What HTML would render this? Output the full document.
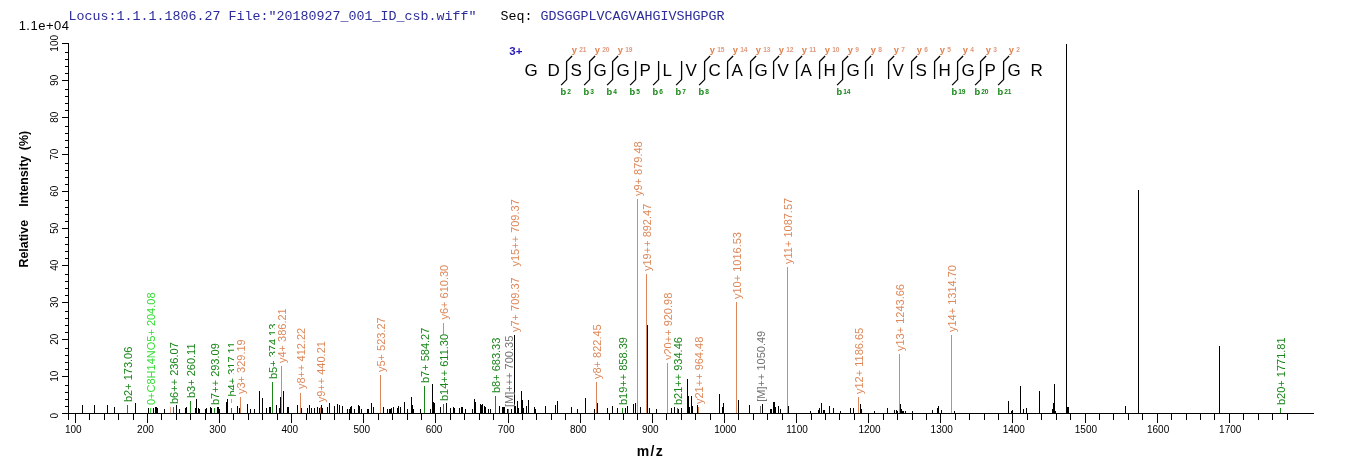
<!DOCTYPE html><html><head><meta charset="utf-8"><title>spectrum</title>
<style>html,body{margin:0;padding:0;background:#fff;overflow:hidden}svg{display:block;opacity:0.999;will-change:transform}text{font-family:"Liberation Sans",sans-serif}.m{font-family:"Liberation Mono",monospace}</style></head><body>
<svg width="1362" height="473" viewBox="0 0 1362 473">
<rect width="1362" height="473" fill="#fff"/>
<text class="m" x="68.5" y="19.5" font-size="13.33" fill="#2b2b9a" xml:space="preserve">Locus:1.1.1.1806.27 File:"20180927_001_ID_csb.wiff"</text>
<text class="m" x="500.5" y="19.5" font-size="13.33" fill="#000" xml:space="preserve">Seq:</text>
<text class="m" x="540.5" y="19.5" font-size="13.33" fill="#2b2b9a">GDSGGPLVCAGVAHGIVSHGPGR</text>
<text x="69.5" y="30" font-size="13" text-anchor="end" letter-spacing="0.5" fill="#000">1.1e+04</text>
<g fill="#000" shape-rendering="crispEdges">
<rect x="68" y="43" width="1" height="377"/>
<rect x="62" y="413" width="1252" height="1"/>
<rect x="62" y="43" width="6" height="1"/>
<rect x="65" y="52" width="3" height="1"/>
<rect x="65" y="59" width="3" height="1"/>
<rect x="65" y="66" width="3" height="1"/>
<rect x="65" y="73" width="3" height="1"/>
<rect x="62" y="80" width="6" height="1"/>
<rect x="65" y="89" width="3" height="1"/>
<rect x="65" y="96" width="3" height="1"/>
<rect x="65" y="103" width="3" height="1"/>
<rect x="65" y="110" width="3" height="1"/>
<rect x="62" y="117" width="6" height="1"/>
<rect x="65" y="126" width="3" height="1"/>
<rect x="65" y="133" width="3" height="1"/>
<rect x="65" y="140" width="3" height="1"/>
<rect x="65" y="147" width="3" height="1"/>
<rect x="62" y="154" width="6" height="1"/>
<rect x="65" y="163" width="3" height="1"/>
<rect x="65" y="170" width="3" height="1"/>
<rect x="65" y="177" width="3" height="1"/>
<rect x="65" y="184" width="3" height="1"/>
<rect x="62" y="191" width="6" height="1"/>
<rect x="65" y="200" width="3" height="1"/>
<rect x="65" y="207" width="3" height="1"/>
<rect x="65" y="214" width="3" height="1"/>
<rect x="65" y="221" width="3" height="1"/>
<rect x="62" y="228" width="6" height="1"/>
<rect x="65" y="237" width="3" height="1"/>
<rect x="65" y="244" width="3" height="1"/>
<rect x="65" y="251" width="3" height="1"/>
<rect x="65" y="258" width="3" height="1"/>
<rect x="62" y="265" width="6" height="1"/>
<rect x="65" y="274" width="3" height="1"/>
<rect x="65" y="281" width="3" height="1"/>
<rect x="65" y="288" width="3" height="1"/>
<rect x="65" y="295" width="3" height="1"/>
<rect x="62" y="302" width="6" height="1"/>
<rect x="65" y="311" width="3" height="1"/>
<rect x="65" y="318" width="3" height="1"/>
<rect x="65" y="325" width="3" height="1"/>
<rect x="65" y="332" width="3" height="1"/>
<rect x="62" y="339" width="6" height="1"/>
<rect x="65" y="348" width="3" height="1"/>
<rect x="65" y="355" width="3" height="1"/>
<rect x="65" y="362" width="3" height="1"/>
<rect x="65" y="369" width="3" height="1"/>
<rect x="62" y="376" width="6" height="1"/>
<rect x="65" y="385" width="3" height="1"/>
<rect x="65" y="392" width="3" height="1"/>
<rect x="65" y="399" width="3" height="1"/>
<rect x="65" y="406" width="3" height="1"/>
<rect x="62" y="413" width="6" height="1"/>
<rect x="75" y="413" width="1" height="10"/>
<rect x="89" y="413" width="1" height="7"/>
<rect x="104" y="413" width="1" height="7"/>
<rect x="118" y="413" width="1" height="7"/>
<rect x="133" y="413" width="1" height="7"/>
<rect x="147" y="413" width="1" height="10"/>
<rect x="161" y="413" width="1" height="7"/>
<rect x="176" y="413" width="1" height="7"/>
<rect x="190" y="413" width="1" height="7"/>
<rect x="205" y="413" width="1" height="7"/>
<rect x="219" y="413" width="1" height="10"/>
<rect x="233" y="413" width="1" height="7"/>
<rect x="248" y="413" width="1" height="7"/>
<rect x="262" y="413" width="1" height="7"/>
<rect x="277" y="413" width="1" height="7"/>
<rect x="291" y="413" width="1" height="10"/>
<rect x="306" y="413" width="1" height="7"/>
<rect x="320" y="413" width="1" height="7"/>
<rect x="334" y="413" width="1" height="7"/>
<rect x="349" y="413" width="1" height="7"/>
<rect x="363" y="413" width="1" height="10"/>
<rect x="378" y="413" width="1" height="7"/>
<rect x="392" y="413" width="1" height="7"/>
<rect x="407" y="413" width="1" height="7"/>
<rect x="421" y="413" width="1" height="7"/>
<rect x="435" y="413" width="1" height="10"/>
<rect x="450" y="413" width="1" height="7"/>
<rect x="464" y="413" width="1" height="7"/>
<rect x="479" y="413" width="1" height="7"/>
<rect x="493" y="413" width="1" height="7"/>
<rect x="508" y="413" width="1" height="10"/>
<rect x="522" y="413" width="1" height="7"/>
<rect x="536" y="413" width="1" height="7"/>
<rect x="551" y="413" width="1" height="7"/>
<rect x="565" y="413" width="1" height="7"/>
<rect x="580" y="413" width="1" height="10"/>
<rect x="594" y="413" width="1" height="7"/>
<rect x="609" y="413" width="1" height="7"/>
<rect x="623" y="413" width="1" height="7"/>
<rect x="637" y="413" width="1" height="7"/>
<rect x="652" y="413" width="1" height="10"/>
<rect x="666" y="413" width="1" height="7"/>
<rect x="681" y="413" width="1" height="7"/>
<rect x="695" y="413" width="1" height="7"/>
<rect x="710" y="413" width="1" height="7"/>
<rect x="724" y="413" width="1" height="10"/>
<rect x="738" y="413" width="1" height="7"/>
<rect x="753" y="413" width="1" height="7"/>
<rect x="767" y="413" width="1" height="7"/>
<rect x="782" y="413" width="1" height="7"/>
<rect x="796" y="413" width="1" height="10"/>
<rect x="811" y="413" width="1" height="7"/>
<rect x="825" y="413" width="1" height="7"/>
<rect x="839" y="413" width="1" height="7"/>
<rect x="854" y="413" width="1" height="7"/>
<rect x="868" y="413" width="1" height="10"/>
<rect x="883" y="413" width="1" height="7"/>
<rect x="897" y="413" width="1" height="7"/>
<rect x="912" y="413" width="1" height="7"/>
<rect x="926" y="413" width="1" height="7"/>
<rect x="940" y="413" width="1" height="10"/>
<rect x="955" y="413" width="1" height="7"/>
<rect x="969" y="413" width="1" height="7"/>
<rect x="984" y="413" width="1" height="7"/>
<rect x="998" y="413" width="1" height="7"/>
<rect x="1012" y="413" width="1" height="10"/>
<rect x="1027" y="413" width="1" height="7"/>
<rect x="1041" y="413" width="1" height="7"/>
<rect x="1056" y="413" width="1" height="7"/>
<rect x="1070" y="413" width="1" height="7"/>
<rect x="1085" y="413" width="1" height="10"/>
<rect x="1099" y="413" width="1" height="7"/>
<rect x="1113" y="413" width="1" height="7"/>
<rect x="1128" y="413" width="1" height="7"/>
<rect x="1142" y="413" width="1" height="7"/>
<rect x="1157" y="413" width="1" height="10"/>
<rect x="1171" y="413" width="1" height="7"/>
<rect x="1186" y="413" width="1" height="7"/>
<rect x="1200" y="413" width="1" height="7"/>
<rect x="1214" y="413" width="1" height="7"/>
<rect x="1229" y="413" width="1" height="10"/>
<rect x="1243" y="413" width="1" height="7"/>
<rect x="1258" y="413" width="1" height="7"/>
<rect x="1272" y="413" width="1" height="7"/>
<rect x="1287" y="413" width="1" height="7"/>
</g>
<g font-size="10" fill="#000">
<text x="65.0" y="433">100</text>
<text x="137.1" y="433">200</text>
<text x="209.3" y="433">300</text>
<text x="281.4" y="433">400</text>
<text x="353.5" y="433">500</text>
<text x="425.7" y="433">600</text>
<text x="497.8" y="433">700</text>
<text x="569.9" y="433">800</text>
<text x="642.0" y="433">900</text>
<text x="714.2" y="433">1000</text>
<text x="786.3" y="433">1100</text>
<text x="858.4" y="433">1200</text>
<text x="930.6" y="433">1300</text>
<text x="1002.7" y="433">1400</text>
<text x="1074.8" y="433">1500</text>
<text x="1147.0" y="433">1600</text>
<text x="1219.1" y="433">1700</text>
<text text-anchor="middle" transform="translate(57.6,415.7) rotate(-90)">0</text>
<text text-anchor="middle" transform="translate(57.6,376.3) rotate(-90)">10</text>
<text text-anchor="middle" transform="translate(57.6,339.3) rotate(-90)">20</text>
<text text-anchor="middle" transform="translate(57.6,302.3) rotate(-90)">30</text>
<text text-anchor="middle" transform="translate(57.6,265.3) rotate(-90)">40</text>
<text text-anchor="middle" transform="translate(57.6,228.3) rotate(-90)">50</text>
<text text-anchor="middle" transform="translate(57.6,191.3) rotate(-90)">60</text>
<text text-anchor="middle" transform="translate(57.6,154.3) rotate(-90)">70</text>
<text text-anchor="middle" transform="translate(57.6,117.3) rotate(-90)">80</text>
<text text-anchor="middle" transform="translate(57.6,80.3) rotate(-90)">90</text>
<text text-anchor="middle" transform="translate(57.6,43.3) rotate(-90)">100</text>
</g>
<g font-weight="bold" fill="#000" font-size="12.4">
<text transform="translate(28.2,267.5) rotate(-90)">Relative</text>
<text transform="translate(28.2,206.8) rotate(-90)">Intensity</text>
<text transform="translate(28.2,150.2) rotate(-90)">(%)</text>
</g>
<text x="636.8" y="455.8" font-size="14" font-weight="bold" letter-spacing="1.3" fill="#000">m/z</text>
<g shape-rendering="crispEdges">
<rect x="127" y="405" width="1" height="8" fill="#1a861a"/>
<rect x="150" y="408" width="1" height="5" fill="#33dd33"/>
<rect x="173" y="407" width="1" height="6" fill="#1a861a"/>
<rect x="190" y="401" width="1" height="12" fill="#1a861a"/>
<rect x="214" y="408" width="1" height="5" fill="#1a861a"/>
<rect x="231" y="408" width="1" height="5" fill="#1a861a"/>
<rect x="240" y="397" width="1" height="16" fill="#dd885a"/>
<rect x="272" y="382" width="1" height="31" fill="#1a861a"/>
<rect x="281" y="366" width="1" height="47" fill="#dd885a"/>
<rect x="300" y="393" width="1" height="20" fill="#dd885a"/>
<rect x="320" y="407" width="1" height="6" fill="#dd885a"/>
<rect x="380" y="375" width="1" height="38" fill="#dd885a"/>
<rect x="424" y="386" width="1" height="27" fill="#1a861a"/>
<rect x="443" y="404" width="1" height="9" fill="#1a861a"/>
<rect x="495" y="396" width="1" height="17" fill="#1a861a"/>
<rect x="508" y="409" width="1" height="4" fill="#727272"/>
<rect x="596" y="382" width="1" height="31" fill="#dd885a"/>
<rect x="622" y="408" width="1" height="5" fill="#1a861a"/>
<rect x="637" y="199" width="1" height="214" fill="#dd885a"/>
<rect x="646" y="274" width="1" height="139" fill="#dd885a"/>
<rect x="667" y="363" width="1" height="50" fill="#dd885a"/>
<rect x="677" y="408" width="1" height="5" fill="#1a861a"/>
<rect x="698" y="407" width="1" height="6" fill="#dd885a"/>
<rect x="736" y="302" width="1" height="111" fill="#dd885a"/>
<rect x="760" y="406" width="1" height="7" fill="#727272"/>
<rect x="787" y="267" width="1" height="146" fill="#dd885a"/>
<rect x="858" y="397" width="1" height="16" fill="#dd885a"/>
<rect x="899" y="354" width="1" height="59" fill="#dd885a"/>
<rect x="951" y="335" width="1" height="78" fill="#dd885a"/>
<rect x="1280" y="408" width="1" height="5" fill="#1a861a"/>
<rect x="170" y="407" width="1" height="6" fill="#e8a08a"/>
<rect x="82" y="405" width="1" height="8" fill="#000"/>
<rect x="94" y="405" width="1" height="8" fill="#000"/>
<rect x="107" y="405" width="1" height="8" fill="#000"/>
<rect x="114" y="407" width="1" height="6" fill="#000"/>
<rect x="135" y="403" width="1" height="10" fill="#000"/>
<rect x="148" y="408" width="1" height="5" fill="#000"/>
<rect x="153" y="408" width="1" height="5" fill="#000"/>
<rect x="155" y="407" width="1" height="6" fill="#000"/>
<rect x="156" y="407" width="1" height="6" fill="#000"/>
<rect x="157" y="408" width="1" height="5" fill="#000"/>
<rect x="164" y="409" width="1" height="4" fill="#000"/>
<rect x="176" y="405" width="1" height="8" fill="#000"/>
<rect x="179" y="409" width="1" height="4" fill="#000"/>
<rect x="185" y="408" width="1" height="5" fill="#000"/>
<rect x="186" y="407" width="1" height="6" fill="#000"/>
<rect x="195" y="408" width="1" height="5" fill="#000"/>
<rect x="196" y="399" width="1" height="14" fill="#000"/>
<rect x="198" y="408" width="1" height="5" fill="#000"/>
<rect x="199" y="409" width="1" height="4" fill="#000"/>
<rect x="205" y="409" width="1" height="4" fill="#000"/>
<rect x="206" y="408" width="1" height="5" fill="#000"/>
<rect x="210" y="407" width="1" height="6" fill="#000"/>
<rect x="211" y="408" width="1" height="5" fill="#000"/>
<rect x="217" y="407" width="1" height="6" fill="#000"/>
<rect x="218" y="407" width="1" height="6" fill="#000"/>
<rect x="219" y="409" width="1" height="4" fill="#000"/>
<rect x="226" y="402" width="1" height="11" fill="#000"/>
<rect x="227" y="399" width="1" height="14" fill="#000"/>
<rect x="237" y="406" width="1" height="7" fill="#000"/>
<rect x="239" y="408" width="1" height="5" fill="#000"/>
<rect x="247" y="404" width="1" height="9" fill="#000"/>
<rect x="250" y="409" width="1" height="4" fill="#000"/>
<rect x="254" y="409" width="1" height="4" fill="#000"/>
<rect x="259" y="391" width="1" height="22" fill="#000"/>
<rect x="262" y="398" width="1" height="15" fill="#000"/>
<rect x="266" y="408" width="1" height="5" fill="#000"/>
<rect x="269" y="407" width="1" height="6" fill="#000"/>
<rect x="270" y="407" width="1" height="6" fill="#000"/>
<rect x="276" y="405" width="1" height="8" fill="#000"/>
<rect x="279" y="408" width="1" height="5" fill="#000"/>
<rect x="280" y="397" width="1" height="16" fill="#000"/>
<rect x="283" y="391" width="1" height="22" fill="#000"/>
<rect x="287" y="407" width="1" height="6" fill="#000"/>
<rect x="288" y="407" width="1" height="6" fill="#000"/>
<rect x="297" y="405" width="1" height="8" fill="#000"/>
<rect x="301" y="408" width="1" height="5" fill="#000"/>
<rect x="307" y="408" width="1" height="5" fill="#000"/>
<rect x="309" y="405" width="1" height="8" fill="#000"/>
<rect x="311" y="408" width="1" height="5" fill="#000"/>
<rect x="314" y="408" width="1" height="5" fill="#000"/>
<rect x="317" y="407" width="1" height="6" fill="#000"/>
<rect x="319" y="408" width="1" height="5" fill="#000"/>
<rect x="321" y="405" width="1" height="8" fill="#000"/>
<rect x="322" y="408" width="1" height="5" fill="#000"/>
<rect x="327" y="407" width="1" height="6" fill="#000"/>
<rect x="329" y="403" width="1" height="10" fill="#000"/>
<rect x="334" y="406" width="1" height="7" fill="#000"/>
<rect x="337" y="404" width="1" height="9" fill="#000"/>
<rect x="339" y="405" width="1" height="8" fill="#000"/>
<rect x="342" y="406" width="1" height="7" fill="#000"/>
<rect x="347" y="409" width="1" height="4" fill="#000"/>
<rect x="349" y="409" width="1" height="4" fill="#000"/>
<rect x="350" y="407" width="1" height="6" fill="#000"/>
<rect x="351" y="406" width="1" height="7" fill="#000"/>
<rect x="354" y="409" width="1" height="4" fill="#000"/>
<rect x="358" y="405" width="1" height="8" fill="#000"/>
<rect x="359" y="406" width="1" height="7" fill="#000"/>
<rect x="361" y="409" width="1" height="4" fill="#000"/>
<rect x="367" y="409" width="1" height="4" fill="#000"/>
<rect x="368" y="409" width="1" height="4" fill="#000"/>
<rect x="371" y="403" width="1" height="10" fill="#000"/>
<rect x="373" y="407" width="1" height="6" fill="#000"/>
<rect x="383" y="407" width="1" height="6" fill="#000"/>
<rect x="387" y="409" width="1" height="4" fill="#000"/>
<rect x="389" y="409" width="1" height="4" fill="#000"/>
<rect x="390" y="409" width="1" height="4" fill="#000"/>
<rect x="391" y="408" width="1" height="5" fill="#000"/>
<rect x="393" y="407" width="1" height="6" fill="#000"/>
<rect x="397" y="408" width="1" height="5" fill="#000"/>
<rect x="398" y="406" width="1" height="7" fill="#000"/>
<rect x="400" y="407" width="1" height="6" fill="#000"/>
<rect x="404" y="402" width="1" height="11" fill="#000"/>
<rect x="407" y="409" width="1" height="4" fill="#000"/>
<rect x="411" y="397" width="1" height="16" fill="#000"/>
<rect x="412" y="405" width="1" height="8" fill="#000"/>
<rect x="413" y="409" width="1" height="4" fill="#000"/>
<rect x="420" y="409" width="1" height="4" fill="#000"/>
<rect x="430" y="409" width="1" height="4" fill="#000"/>
<rect x="432" y="384" width="1" height="29" fill="#000"/>
<rect x="433" y="402" width="1" height="11" fill="#000"/>
<rect x="434" y="403" width="1" height="10" fill="#000"/>
<rect x="440" y="407" width="1" height="6" fill="#000"/>
<rect x="446" y="403" width="1" height="10" fill="#000"/>
<rect x="450" y="408" width="1" height="5" fill="#000"/>
<rect x="453" y="407" width="1" height="6" fill="#000"/>
<rect x="454" y="408" width="1" height="5" fill="#000"/>
<rect x="459" y="408" width="1" height="5" fill="#000"/>
<rect x="461" y="407" width="1" height="6" fill="#000"/>
<rect x="462" y="407" width="1" height="6" fill="#000"/>
<rect x="465" y="409" width="1" height="4" fill="#000"/>
<rect x="472" y="409" width="1" height="4" fill="#000"/>
<rect x="474" y="399" width="1" height="14" fill="#000"/>
<rect x="475" y="402" width="1" height="11" fill="#000"/>
<rect x="480" y="404" width="1" height="9" fill="#000"/>
<rect x="481" y="405" width="1" height="8" fill="#000"/>
<rect x="482" y="404" width="1" height="9" fill="#000"/>
<rect x="484" y="406" width="1" height="7" fill="#000"/>
<rect x="485" y="407" width="1" height="6" fill="#000"/>
<rect x="488" y="409" width="1" height="4" fill="#000"/>
<rect x="490" y="409" width="1" height="4" fill="#000"/>
<rect x="499" y="406" width="1" height="7" fill="#000"/>
<rect x="502" y="407" width="1" height="6" fill="#000"/>
<rect x="503" y="407" width="1" height="6" fill="#000"/>
<rect x="504" y="407" width="1" height="6" fill="#000"/>
<rect x="507" y="409" width="1" height="4" fill="#000"/>
<rect x="511" y="409" width="1" height="4" fill="#000"/>
<rect x="514" y="335" width="1" height="78" fill="#000"/>
<rect x="515" y="406" width="1" height="7" fill="#000"/>
<rect x="517" y="401" width="1" height="12" fill="#000"/>
<rect x="518" y="408" width="1" height="5" fill="#000"/>
<rect x="521" y="391" width="1" height="22" fill="#000"/>
<rect x="522" y="400" width="1" height="13" fill="#000"/>
<rect x="523" y="408" width="1" height="5" fill="#000"/>
<rect x="526" y="406" width="1" height="7" fill="#000"/>
<rect x="528" y="400" width="1" height="13" fill="#000"/>
<rect x="534" y="407" width="1" height="6" fill="#000"/>
<rect x="535" y="409" width="1" height="4" fill="#000"/>
<rect x="545" y="406" width="1" height="7" fill="#000"/>
<rect x="555" y="405" width="1" height="8" fill="#000"/>
<rect x="557" y="401" width="1" height="12" fill="#000"/>
<rect x="571" y="407" width="1" height="6" fill="#000"/>
<rect x="577" y="409" width="1" height="4" fill="#000"/>
<rect x="585" y="398" width="1" height="15" fill="#000"/>
<rect x="594" y="409" width="1" height="4" fill="#000"/>
<rect x="597" y="403" width="1" height="10" fill="#000"/>
<rect x="607" y="408" width="1" height="5" fill="#000"/>
<rect x="612" y="406" width="1" height="7" fill="#000"/>
<rect x="617" y="408" width="1" height="5" fill="#000"/>
<rect x="625" y="408" width="1" height="5" fill="#000"/>
<rect x="627" y="406" width="1" height="7" fill="#000"/>
<rect x="633" y="404" width="1" height="9" fill="#000"/>
<rect x="635" y="403" width="1" height="10" fill="#000"/>
<rect x="640" y="407" width="1" height="6" fill="#000"/>
<rect x="647" y="325" width="1" height="88" fill="#000"/>
<rect x="649" y="408" width="1" height="5" fill="#000"/>
<rect x="656" y="409" width="1" height="4" fill="#000"/>
<rect x="671" y="408" width="1" height="5" fill="#000"/>
<rect x="674" y="407" width="1" height="6" fill="#000"/>
<rect x="678" y="409" width="1" height="4" fill="#000"/>
<rect x="681" y="408" width="1" height="5" fill="#000"/>
<rect x="687" y="379" width="1" height="34" fill="#000"/>
<rect x="688" y="396" width="1" height="17" fill="#000"/>
<rect x="689" y="407" width="1" height="6" fill="#000"/>
<rect x="691" y="396" width="1" height="17" fill="#000"/>
<rect x="692" y="406" width="1" height="7" fill="#000"/>
<rect x="697" y="405" width="1" height="8" fill="#000"/>
<rect x="719" y="394" width="1" height="19" fill="#000"/>
<rect x="722" y="407" width="1" height="6" fill="#000"/>
<rect x="723" y="403" width="1" height="10" fill="#000"/>
<rect x="738" y="400" width="1" height="13" fill="#000"/>
<rect x="749" y="405" width="1" height="8" fill="#000"/>
<rect x="762" y="404" width="1" height="9" fill="#000"/>
<rect x="770" y="409" width="1" height="4" fill="#000"/>
<rect x="771" y="409" width="1" height="4" fill="#000"/>
<rect x="773" y="402" width="1" height="11" fill="#000"/>
<rect x="774" y="402" width="1" height="11" fill="#000"/>
<rect x="775" y="407" width="1" height="6" fill="#000"/>
<rect x="778" y="406" width="1" height="7" fill="#000"/>
<rect x="780" y="409" width="1" height="4" fill="#000"/>
<rect x="788" y="406" width="1" height="7" fill="#000"/>
<rect x="810" y="411" width="1" height="2" fill="#000"/>
<rect x="818" y="410" width="1" height="3" fill="#000"/>
<rect x="819" y="408" width="1" height="5" fill="#000"/>
<rect x="821" y="403" width="1" height="10" fill="#000"/>
<rect x="823" y="410" width="1" height="3" fill="#000"/>
<rect x="824" y="410" width="1" height="3" fill="#000"/>
<rect x="829" y="406" width="1" height="7" fill="#000"/>
<rect x="833" y="408" width="1" height="5" fill="#000"/>
<rect x="840" y="411" width="1" height="2" fill="#000"/>
<rect x="850" y="408" width="1" height="5" fill="#000"/>
<rect x="853" y="408" width="1" height="5" fill="#000"/>
<rect x="860" y="404" width="1" height="9" fill="#000"/>
<rect x="861" y="409" width="1" height="4" fill="#000"/>
<rect x="874" y="411" width="1" height="2" fill="#000"/>
<rect x="887" y="408" width="1" height="5" fill="#000"/>
<rect x="894" y="410" width="1" height="3" fill="#000"/>
<rect x="896" y="410" width="1" height="3" fill="#000"/>
<rect x="897" y="411" width="1" height="2" fill="#000"/>
<rect x="900" y="404" width="1" height="9" fill="#000"/>
<rect x="901" y="409" width="1" height="4" fill="#000"/>
<rect x="902" y="411" width="1" height="2" fill="#000"/>
<rect x="903" y="411" width="1" height="2" fill="#000"/>
<rect x="905" y="411" width="1" height="2" fill="#000"/>
<rect x="912" y="411" width="1" height="2" fill="#000"/>
<rect x="932" y="410" width="1" height="3" fill="#000"/>
<rect x="937" y="408" width="1" height="5" fill="#000"/>
<rect x="938" y="406" width="1" height="7" fill="#000"/>
<rect x="941" y="410" width="1" height="3" fill="#000"/>
<rect x="954" y="411" width="1" height="2" fill="#000"/>
<rect x="1008" y="401" width="1" height="12" fill="#000"/>
<rect x="1011" y="411" width="1" height="2" fill="#000"/>
<rect x="1012" y="410" width="1" height="3" fill="#000"/>
<rect x="1020" y="386" width="1" height="27" fill="#000"/>
<rect x="1023" y="409" width="1" height="4" fill="#000"/>
<rect x="1026" y="408" width="1" height="5" fill="#000"/>
<rect x="1039" y="391" width="1" height="22" fill="#000"/>
<rect x="1052" y="409" width="1" height="4" fill="#000"/>
<rect x="1053" y="403" width="1" height="10" fill="#000"/>
<rect x="1054" y="384" width="1" height="29" fill="#000"/>
<rect x="1055" y="411" width="1" height="2" fill="#000"/>
<rect x="1066" y="44" width="1" height="369" fill="#000"/>
<rect x="1067" y="407" width="1" height="6" fill="#000"/>
<rect x="1068" y="407" width="1" height="6" fill="#000"/>
<rect x="1125" y="406" width="1" height="7" fill="#000"/>
<rect x="1138" y="190" width="1" height="223" fill="#000"/>
<rect x="1219" y="346" width="1" height="67" fill="#000"/>
<rect x="443" y="323" width="1" height="11" fill="#dd885a"/>
<rect x="231" y="399" width="1" height="4" fill="#8fbf8f"/>
</g>
<g font-size="11">
<text transform="translate(132,402) rotate(-90)" fill="#1a861a">b2+ 173.06</text>
<text transform="translate(155,405) rotate(-90)" fill="#33dd33">0+C8H14NO5+ 204.08</text>
<text transform="translate(178,404) rotate(-90)" fill="#1a861a">b6++ 236.07</text>
<text transform="translate(195,398) rotate(-90)" fill="#1a861a">b3+ 260.11</text>
<text transform="translate(219,405) rotate(-90)" fill="#1a861a">b7++ 293.09</text>
<text transform="translate(236,396.5) rotate(-90)" fill="#1a861a">b4+ 317.11</text>
<rect x="234" y="332.0" width="14" height="63.0" fill="#fff"/>
<text transform="translate(245,394) rotate(-90)" fill="#dd885a">y3+ 329.19</text>
<text transform="translate(277,379) rotate(-90)" fill="#1a861a">b5+ 374.13</text>
<rect x="275" y="301.0" width="14" height="63.0" fill="#fff"/>
<text transform="translate(286,363) rotate(-90)" fill="#dd885a">y4+ 386.21</text>
<text transform="translate(305,389) rotate(-90)" fill="#dd885a">y8++ 412.22</text>
<text transform="translate(325,402.3) rotate(-90)" fill="#dd885a">y9++ 440.21</text>
<text transform="translate(385,372) rotate(-90)" fill="#dd885a">y5+ 523.27</text>
<text transform="translate(429,383) rotate(-90)" fill="#1a861a">b7+ 584.27</text>
<text transform="translate(448,319.5) rotate(-90)" fill="#dd885a">y6+ 610.30</text>
<text transform="translate(448,401) rotate(-90)" fill="#1a861a">b14++ 611.30</text>
<text transform="translate(500,393) rotate(-90)" fill="#1a861a">b8+ 683.33</text>
<text transform="translate(513,407) rotate(-90)" fill="#727272">[M]+++ 700.35</text>
<text transform="translate(519,332) rotate(-90)" fill="#dd885a">y7+ 709.37</text>
<text transform="translate(519,266.5) rotate(-90)" fill="#dd885a">y15++ 709.37</text>
<text transform="translate(601,379) rotate(-90)" fill="#dd885a">y8+ 822.45</text>
<text transform="translate(627,405) rotate(-90)" fill="#1a861a">b19++ 858.39</text>
<text transform="translate(642,196) rotate(-90)" fill="#dd885a">y9+ 879.48</text>
<text transform="translate(651,271) rotate(-90)" fill="#dd885a">y19++ 892.47</text>
<text transform="translate(672,360) rotate(-90)" fill="#dd885a">y20++ 920.98</text>
<rect x="671" y="331.0" width="14" height="75.0" fill="#fff"/>
<text transform="translate(682,405) rotate(-90)" fill="#1a861a">b21++ 934.46</text>
<text transform="translate(703,404) rotate(-90)" fill="#dd885a">y21++ 964.48</text>
<text transform="translate(741,299) rotate(-90)" fill="#dd885a">y10+ 1016.53</text>
<text transform="translate(765,401.7) rotate(-90)" fill="#727272">[M]++ 1050.49</text>
<text transform="translate(792,264) rotate(-90)" fill="#dd885a">y11+ 1087.57</text>
<text transform="translate(863,394) rotate(-90)" fill="#dd885a">y12+ 1186.65</text>
<text transform="translate(904,351) rotate(-90)" fill="#dd885a">y13+ 1243.66</text>
<text transform="translate(956,332) rotate(-90)" fill="#dd885a">y14+ 1314.70</text>
<text transform="translate(1285,405) rotate(-90)" fill="#1a861a">b20+ 1771.81</text>
</g>
<g font-size="17" fill="#000">
<text x="524.4" y="75.8">G</text>
<text x="547.4" y="75.8">D</text>
<text x="570.4" y="75.8">S</text>
<text x="593.4" y="75.8">G</text>
<text x="616.4" y="75.8">G</text>
<text x="639.4" y="75.8">P</text>
<text x="662.4" y="75.8">L</text>
<text x="685.4" y="75.8">V</text>
<text x="708.4" y="75.8">C</text>
<text x="731.4" y="75.8">A</text>
<text x="754.4" y="75.8">G</text>
<text x="777.4" y="75.8">V</text>
<text x="800.4" y="75.8">A</text>
<text x="823.4" y="75.8">H</text>
<text x="846.4" y="75.8">G</text>
<text x="869.4" y="75.8">I</text>
<text x="892.4" y="75.8">V</text>
<text x="915.4" y="75.8">S</text>
<text x="938.4" y="75.8">H</text>
<text x="961.4" y="75.8">G</text>
<text x="984.4" y="75.8">P</text>
<text x="1007.4" y="75.8">G</text>
<text x="1030.4" y="75.8">R</text>
</g>
<text x="509.3" y="55.1" font-size="11.5" font-weight="bold" fill="#2618b8">3+</text>
<g stroke="#000" stroke-width="1.3" fill="none">
<path d="M572.1 56 L566.6 61.5 L566.6 79.6 L561.1 85.1"/>
<path d="M595.1 56 L589.6 61.5 L589.6 79.6 L584.1 85.1"/>
<path d="M618.1 56 L612.6 61.5 L612.6 79.6 L607.1 85.1"/>
<path d="M635.6 61 L635.6 79.6 L630.1 85.1"/>
<path d="M658.6 61 L658.6 79.6 L653.1 85.1"/>
<path d="M681.6 61 L681.6 79.6 L676.1 85.1"/>
<path d="M710.1 56 L704.6 61.5 L704.6 79.6 L699.1 85.1"/>
<path d="M733.1 56 L727.6 61.5 L727.6 79"/>
<path d="M756.1 56 L750.6 61.5 L750.6 79"/>
<path d="M779.1 56 L773.6 61.5 L773.6 79"/>
<path d="M802.1 56 L796.6 61.5 L796.6 79"/>
<path d="M825.1 56 L819.6 61.5 L819.6 79"/>
<path d="M848.1 56 L842.6 61.5 L842.6 79.6 L837.1 85.1"/>
<path d="M871.1 56 L865.6 61.5 L865.6 79"/>
<path d="M894.1 56 L888.6 61.5 L888.6 79"/>
<path d="M917.1 56 L911.6 61.5 L911.6 79"/>
<path d="M940.1 56 L934.6 61.5 L934.6 79"/>
<path d="M963.1 56 L957.6 61.5 L957.6 79.6 L952.1 85.1"/>
<path d="M986.1 56 L980.6 61.5 L980.6 79.6 L975.1 85.1"/>
<path d="M1009.1 56 L1003.6 61.5 L1003.6 79.6 L998.1 85.1"/>
</g>
<text x="571.8" y="52.8" font-size="9.3" font-weight="bold" fill="#e0814e">y</text>
<text x="579.2" y="52" font-size="6.6" font-weight="bold" fill="#e29a80">21</text>
<text x="560.4" y="95" font-size="9.3" font-weight="bold" fill="#168616">b</text>
<text x="567.2" y="94.2" font-size="6.6" font-weight="bold" fill="#168616">2</text>
<text x="594.8" y="52.8" font-size="9.3" font-weight="bold" fill="#e0814e">y</text>
<text x="602.2" y="52" font-size="6.6" font-weight="bold" fill="#e29a80">20</text>
<text x="583.4" y="95" font-size="9.3" font-weight="bold" fill="#168616">b</text>
<text x="590.2" y="94.2" font-size="6.6" font-weight="bold" fill="#168616">3</text>
<text x="617.8" y="52.8" font-size="9.3" font-weight="bold" fill="#e0814e">y</text>
<text x="625.2" y="52" font-size="6.6" font-weight="bold" fill="#e29a80">19</text>
<text x="606.4" y="95" font-size="9.3" font-weight="bold" fill="#168616">b</text>
<text x="613.2" y="94.2" font-size="6.6" font-weight="bold" fill="#168616">4</text>
<text x="629.4" y="95" font-size="9.3" font-weight="bold" fill="#168616">b</text>
<text x="636.2" y="94.2" font-size="6.6" font-weight="bold" fill="#168616">5</text>
<text x="652.4" y="95" font-size="9.3" font-weight="bold" fill="#168616">b</text>
<text x="659.2" y="94.2" font-size="6.6" font-weight="bold" fill="#168616">6</text>
<text x="675.4" y="95" font-size="9.3" font-weight="bold" fill="#168616">b</text>
<text x="682.2" y="94.2" font-size="6.6" font-weight="bold" fill="#168616">7</text>
<text x="709.8" y="52.8" font-size="9.3" font-weight="bold" fill="#e0814e">y</text>
<text x="717.2" y="52" font-size="6.6" font-weight="bold" fill="#e29a80">15</text>
<text x="698.4" y="95" font-size="9.3" font-weight="bold" fill="#168616">b</text>
<text x="705.2" y="94.2" font-size="6.6" font-weight="bold" fill="#168616">8</text>
<text x="732.8" y="52.8" font-size="9.3" font-weight="bold" fill="#e0814e">y</text>
<text x="740.2" y="52" font-size="6.6" font-weight="bold" fill="#e29a80">14</text>
<text x="755.8" y="52.8" font-size="9.3" font-weight="bold" fill="#e0814e">y</text>
<text x="763.2" y="52" font-size="6.6" font-weight="bold" fill="#e29a80">13</text>
<text x="778.8" y="52.8" font-size="9.3" font-weight="bold" fill="#e0814e">y</text>
<text x="786.2" y="52" font-size="6.6" font-weight="bold" fill="#e29a80">12</text>
<text x="801.8" y="52.8" font-size="9.3" font-weight="bold" fill="#e0814e">y</text>
<text x="809.2" y="52" font-size="6.6" font-weight="bold" fill="#e29a80">11</text>
<text x="824.8" y="52.8" font-size="9.3" font-weight="bold" fill="#e0814e">y</text>
<text x="832.2" y="52" font-size="6.6" font-weight="bold" fill="#e29a80">10</text>
<text x="847.8" y="52.8" font-size="9.3" font-weight="bold" fill="#e0814e">y</text>
<text x="855.2" y="52" font-size="6.6" font-weight="bold" fill="#e29a80">9</text>
<text x="836.4" y="95" font-size="9.3" font-weight="bold" fill="#168616">b</text>
<text x="843.2" y="94.2" font-size="6.6" font-weight="bold" fill="#168616">14</text>
<text x="870.8" y="52.8" font-size="9.3" font-weight="bold" fill="#e0814e">y</text>
<text x="878.2" y="52" font-size="6.6" font-weight="bold" fill="#e29a80">8</text>
<text x="893.8" y="52.8" font-size="9.3" font-weight="bold" fill="#e0814e">y</text>
<text x="901.2" y="52" font-size="6.6" font-weight="bold" fill="#e29a80">7</text>
<text x="916.8" y="52.8" font-size="9.3" font-weight="bold" fill="#e0814e">y</text>
<text x="924.2" y="52" font-size="6.6" font-weight="bold" fill="#e29a80">6</text>
<text x="939.8" y="52.8" font-size="9.3" font-weight="bold" fill="#e0814e">y</text>
<text x="947.2" y="52" font-size="6.6" font-weight="bold" fill="#e29a80">5</text>
<text x="962.8" y="52.8" font-size="9.3" font-weight="bold" fill="#e0814e">y</text>
<text x="970.2" y="52" font-size="6.6" font-weight="bold" fill="#e29a80">4</text>
<text x="951.4" y="95" font-size="9.3" font-weight="bold" fill="#168616">b</text>
<text x="958.2" y="94.2" font-size="6.6" font-weight="bold" fill="#168616">19</text>
<text x="985.8" y="52.8" font-size="9.3" font-weight="bold" fill="#e0814e">y</text>
<text x="993.2" y="52" font-size="6.6" font-weight="bold" fill="#e29a80">3</text>
<text x="974.4" y="95" font-size="9.3" font-weight="bold" fill="#168616">b</text>
<text x="981.2" y="94.2" font-size="6.6" font-weight="bold" fill="#168616">20</text>
<text x="1008.8" y="52.8" font-size="9.3" font-weight="bold" fill="#e0814e">y</text>
<text x="1016.2" y="52" font-size="6.6" font-weight="bold" fill="#e29a80">2</text>
<text x="997.4" y="95" font-size="9.3" font-weight="bold" fill="#168616">b</text>
<text x="1004.2" y="94.2" font-size="6.6" font-weight="bold" fill="#168616">21</text>
</svg></body></html>
